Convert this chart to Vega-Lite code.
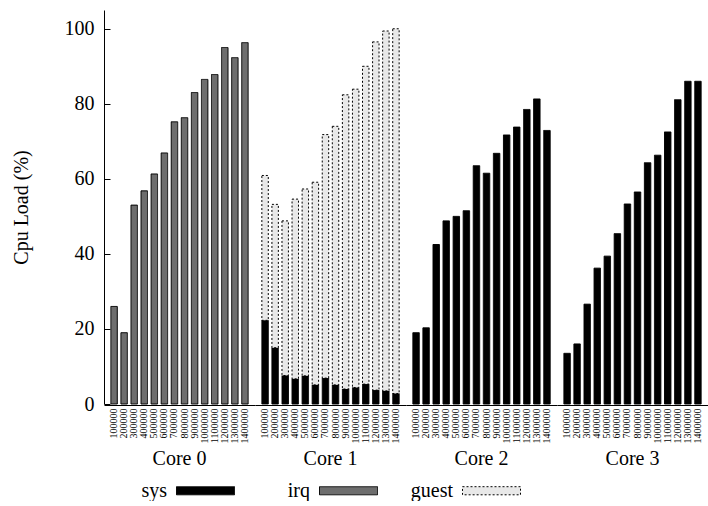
{
  "$schema": "https://vega.github.io/schema/vega-lite/v6.json",
  "padding": {"left": 11, "top": 10, "right": 0, "bottom": 0},
  "config": {
    "font": "Liberation Serif, Times New Roman, serif",
    "view": {"stroke": null},
    "axis": {"grid": false, "domainColor": "black", "tickColor": "black", "labelColor": "black", "titleColor": "black", "labelFont": "Liberation Serif, Times New Roman, serif", "titleFont": "Liberation Serif, Times New Roman, serif"},
    "header": {"labelFont": "Liberation Serif, Times New Roman, serif", "labelColor": "black"},
    "legend": {"labelFont": "Liberation Serif, Times New Roman, serif", "labelColor": "black"}
  },
  "data": {
    "values": [
      {"core": "Core 0", "freq": 100000, "type": "irq", "value": 26.0},
      {"core": "Core 0", "freq": 200000, "type": "irq", "value": 19.0},
      {"core": "Core 0", "freq": 300000, "type": "irq", "value": 53.0},
      {"core": "Core 0", "freq": 400000, "type": "irq", "value": 56.8},
      {"core": "Core 0", "freq": 500000, "type": "irq", "value": 61.3},
      {"core": "Core 0", "freq": 600000, "type": "irq", "value": 66.9},
      {"core": "Core 0", "freq": 700000, "type": "irq", "value": 75.2},
      {"core": "Core 0", "freq": 800000, "type": "irq", "value": 76.3},
      {"core": "Core 0", "freq": 900000, "type": "irq", "value": 83.0},
      {"core": "Core 0", "freq": 1000000, "type": "irq", "value": 86.5},
      {"core": "Core 0", "freq": 1100000, "type": "irq", "value": 87.8},
      {"core": "Core 0", "freq": 1200000, "type": "irq", "value": 95.0},
      {"core": "Core 0", "freq": 1300000, "type": "irq", "value": 92.3},
      {"core": "Core 0", "freq": 1400000, "type": "irq", "value": 96.3},
      {"core": "Core 1", "freq": 100000, "type": "sys", "value": 22.3},
      {"core": "Core 1", "freq": 200000, "type": "sys", "value": 15.0},
      {"core": "Core 1", "freq": 300000, "type": "sys", "value": 7.6},
      {"core": "Core 1", "freq": 400000, "type": "sys", "value": 6.7},
      {"core": "Core 1", "freq": 500000, "type": "sys", "value": 7.5},
      {"core": "Core 1", "freq": 600000, "type": "sys", "value": 5.1},
      {"core": "Core 1", "freq": 700000, "type": "sys", "value": 6.9},
      {"core": "Core 1", "freq": 800000, "type": "sys", "value": 5.1},
      {"core": "Core 1", "freq": 900000, "type": "sys", "value": 4.0},
      {"core": "Core 1", "freq": 1000000, "type": "sys", "value": 4.4},
      {"core": "Core 1", "freq": 1100000, "type": "sys", "value": 5.3},
      {"core": "Core 1", "freq": 1200000, "type": "sys", "value": 3.7},
      {"core": "Core 1", "freq": 1300000, "type": "sys", "value": 3.5},
      {"core": "Core 1", "freq": 1400000, "type": "sys", "value": 2.8},
      {"core": "Core 1", "freq": 100000, "type": "guest", "value": 38.6},
      {"core": "Core 1", "freq": 200000, "type": "guest", "value": 38.2},
      {"core": "Core 1", "freq": 300000, "type": "guest", "value": 41.2},
      {"core": "Core 1", "freq": 400000, "type": "guest", "value": 47.9},
      {"core": "Core 1", "freq": 500000, "type": "guest", "value": 49.8},
      {"core": "Core 1", "freq": 600000, "type": "guest", "value": 54.0},
      {"core": "Core 1", "freq": 700000, "type": "guest", "value": 64.9},
      {"core": "Core 1", "freq": 800000, "type": "guest", "value": 68.9},
      {"core": "Core 1", "freq": 900000, "type": "guest", "value": 78.4},
      {"core": "Core 1", "freq": 1000000, "type": "guest", "value": 79.5},
      {"core": "Core 1", "freq": 1100000, "type": "guest", "value": 84.7},
      {"core": "Core 1", "freq": 1200000, "type": "guest", "value": 92.8},
      {"core": "Core 1", "freq": 1300000, "type": "guest", "value": 95.9},
      {"core": "Core 1", "freq": 1400000, "type": "guest", "value": 97.2},
      {"core": "Core 2", "freq": 100000, "type": "sys", "value": 19.0},
      {"core": "Core 2", "freq": 200000, "type": "sys", "value": 20.3},
      {"core": "Core 2", "freq": 300000, "type": "sys", "value": 42.5},
      {"core": "Core 2", "freq": 400000, "type": "sys", "value": 48.8},
      {"core": "Core 2", "freq": 500000, "type": "sys", "value": 50.0},
      {"core": "Core 2", "freq": 600000, "type": "sys", "value": 51.5},
      {"core": "Core 2", "freq": 700000, "type": "sys", "value": 63.5},
      {"core": "Core 2", "freq": 800000, "type": "sys", "value": 61.5},
      {"core": "Core 2", "freq": 900000, "type": "sys", "value": 66.8},
      {"core": "Core 2", "freq": 1000000, "type": "sys", "value": 71.7},
      {"core": "Core 2", "freq": 1100000, "type": "sys", "value": 73.8},
      {"core": "Core 2", "freq": 1200000, "type": "sys", "value": 78.5},
      {"core": "Core 2", "freq": 1300000, "type": "sys", "value": 81.3},
      {"core": "Core 2", "freq": 1400000, "type": "sys", "value": 72.9},
      {"core": "Core 3", "freq": 100000, "type": "sys", "value": 13.5},
      {"core": "Core 3", "freq": 200000, "type": "sys", "value": 16.0},
      {"core": "Core 3", "freq": 300000, "type": "sys", "value": 26.6},
      {"core": "Core 3", "freq": 400000, "type": "sys", "value": 36.2},
      {"core": "Core 3", "freq": 500000, "type": "sys", "value": 39.4},
      {"core": "Core 3", "freq": 600000, "type": "sys", "value": 45.4},
      {"core": "Core 3", "freq": 700000, "type": "sys", "value": 53.3},
      {"core": "Core 3", "freq": 800000, "type": "sys", "value": 56.5},
      {"core": "Core 3", "freq": 900000, "type": "sys", "value": 64.3},
      {"core": "Core 3", "freq": 1000000, "type": "sys", "value": 66.3},
      {"core": "Core 3", "freq": 1100000, "type": "sys", "value": 72.5},
      {"core": "Core 3", "freq": 1200000, "type": "sys", "value": 81.1},
      {"core": "Core 3", "freq": 1300000, "type": "sys", "value": 86.0},
      {"core": "Core 3", "freq": 1400000, "type": "sys", "value": 86.0}
    ]
  },
  "facet": {
    "column": {
      "field": "core",
      "type": "nominal",
      "header": {"title": null, "labelOrient": "bottom", "labelFontSize": 20, "labelPadding": 6}
    }
  },
  "spacing": 0,
  "spec": {
    "width": 151,
    "height": 394,
    "mark": {"type": "bar", "stroke": "black", "strokeWidth": 1},
    "encoding": {
      "x": {
        "field": "freq",
        "type": "ordinal",
        "scale": {"paddingInner": 0.36, "paddingOuter": 0.68},
        "axis": {"title": null, "labelAngle": 270, "labelFontSize": 10, "labelPadding": 3, "ticks": false, "domainWidth": 1}
      },
      "y": {
        "field": "value",
        "type": "quantitative",
        "stack": "zero",
        "scale": {"domain": [0, 105], "nice": false},
        "axis": {"title": "Cpu Load (%)", "values": [0, 20, 40, 60, 80, 100], "tickSize": -6, "labelFontSize": 20, "labelPadding": 16, "titleFontSize": 20, "titleFontWeight": "normal", "titlePadding": 33}
      },
      "color": {
        "field": "type",
        "type": "nominal",
        "scale": {"domain": ["sys", "irq", "guest"], "range": ["#000000", "#6e6e6e", "#e8e8e8"]},
        "legend": {
          "title": null,
          "orient": "none",
          "legendX": 72,
          "legendY": 451,
          "direction": "horizontal",
          "columns": 3,
          "gridAlign": "all",
          "columnPadding": 30,
          "symbolType": "M-1,-0.14H1V0.14H-1Z",
          "symbolSize": 3364,
          "symbolStrokeColor": "black",
          "symbolStrokeWidth": 1,
          "labelFontSize": 20,
          "labelAlign": "right",
          "labelOffset": -68,
          "labelExpr": "'\u2002\u2002' + datum.label"
        }
      },
      "strokeDash": {
        "field": "type",
        "type": "nominal",
        "scale": {"domain": ["sys", "irq", "guest"], "range": [[1, 0], [1, 0], [2, 2]]},
        "legend": null
      },
      "order": {"field": "type", "sort": "descending"}
    }
  }
}
